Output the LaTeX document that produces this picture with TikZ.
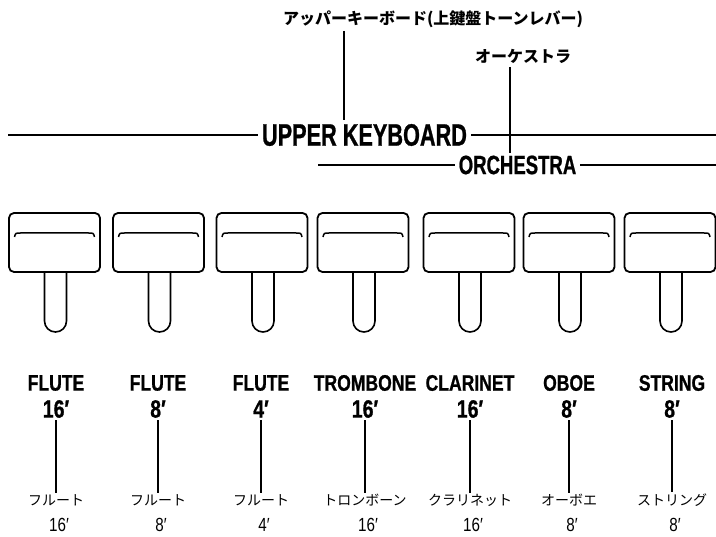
\documentclass[tikz,border=0pt]{standalone}
\usepackage{fontspec}
\newfontfamily\hfont[FakeStretch=0.7, BoldFeatures={FakeBold=0.8}]{Liberation Sans}
\newfontfamily\lfont[FakeStretch=0.78, BoldFeatures={FakeBold=0.8}]{Liberation Sans}
\newfontfamily\nfont[FakeStretch=0.8]{Liberation Sans}
\newfontfamily\jpfont{Noto Sans CJK JP}
\tikzset{
  head/.style={font=\hfont\bfseries\fontsize{31}{31}\selectfont, inner sep=4pt},
  orch/.style={font=\hfont\bfseries\fontsize{26.5}{26.5}\selectfont, inner sep=4pt},
  lab/.style={font=\lfont\bfseries\fontsize{22.5}{22.5}\selectfont, inner sep=1pt},
  num/.style={font=\lfont\bfseries\fontsize{25}{25}\selectfont, inner sep=2pt},
  jptop/.style={font=\jpfont\bfseries\fontsize{16}{16}\selectfont, inner sep=1pt},
  jpbot/.style={font=\jpfont\fontsize{14}{14}\selectfont, inner sep=1pt},
  bnum/.style={font=\nfont\fontsize{19}{19}\selectfont, inner sep=1pt},
  conn/.style={line width=2.6pt},
  rule/.style={line width=2pt},
  tab/.style={line width=1.8pt, rounded corners=5pt},
  stem/.style={line width=1.6pt},
}
\begin{document}
\begin{tikzpicture}[x=1pt,y=-1pt]
\useasboundingbox (0,0) rectangle (716,537);

% headings
\node[jptop] (upjp) at (433,19) {アッパーキーボード(上鍵盤トーンレバー)};
\node[jptop] (orjp) at (523,56) {オーケストラ};
\node[head] (uk) at (364.5,135) {UPPER KEYBOARD};
\node[orch] (or) at (517.5,165) {ORCHESTRA};

\coordinate (ukL) at (8,135);
\coordinate (ukR) at (716,135);
\coordinate (orL) at (318,165);
\coordinate (orR) at (716,165);
\draw[rule] (ukL) -- (uk.west);
\draw[rule] (uk.east) -- (ukR);
\draw[rule] (orL) -- (or.west);
\draw[rule] (or.east) -- (orR);

\coordinate (upA) at (344,31);
\coordinate (upB) at (344,120);
\draw[conn] (upA) -- (upB);
\coordinate (orA) at (510,67);
\coordinate (orB) at (510,153);
\draw[conn] (orA) -- (orB);

% tabs
\foreach \c in {54.5,158.5,262,363,469,569,670}{
  \draw[tab] (\c-45.5,213) rectangle (\c+45.5,272);
  \draw[line width=1.5pt] (\c-40,237) .. controls (\c-39,233) .. (\c-34,233) -- (\c+34,233) .. controls (\c+39,233) .. (\c+40,237);
  \draw[stem] (\c-10,272) -- (\c-10,321) arc(180:0:11) -- (\c+12,272);
}

% labels
\foreach \i/\c/\nm/\ft/\jp in {1/56/FLUTE/16/フルート, 2/158/FLUTE/8/フルート, 3/261/FLUTE/4/フルート, 4/365/TROMBONE/16/トロンボーン, 5/470/CLARINET/16/クラリネット, 6/569/OBOE/8/オーボエ, 7/672/STRING/8/ストリング}{
  \node[lab] (lab\i) at (\c,383) {\nm};
  \node[num] (num\i) at (\c,409) {\ft′};
  \node[jpbot] (jp\i) at (\c,500) {\jp};
  \node[bnum] (bn\i) at (\c+3,525) {\ft′};
  \draw[conn] (num\i.south) -- (jp\i.north);
}
\end{tikzpicture}
\end{document}
